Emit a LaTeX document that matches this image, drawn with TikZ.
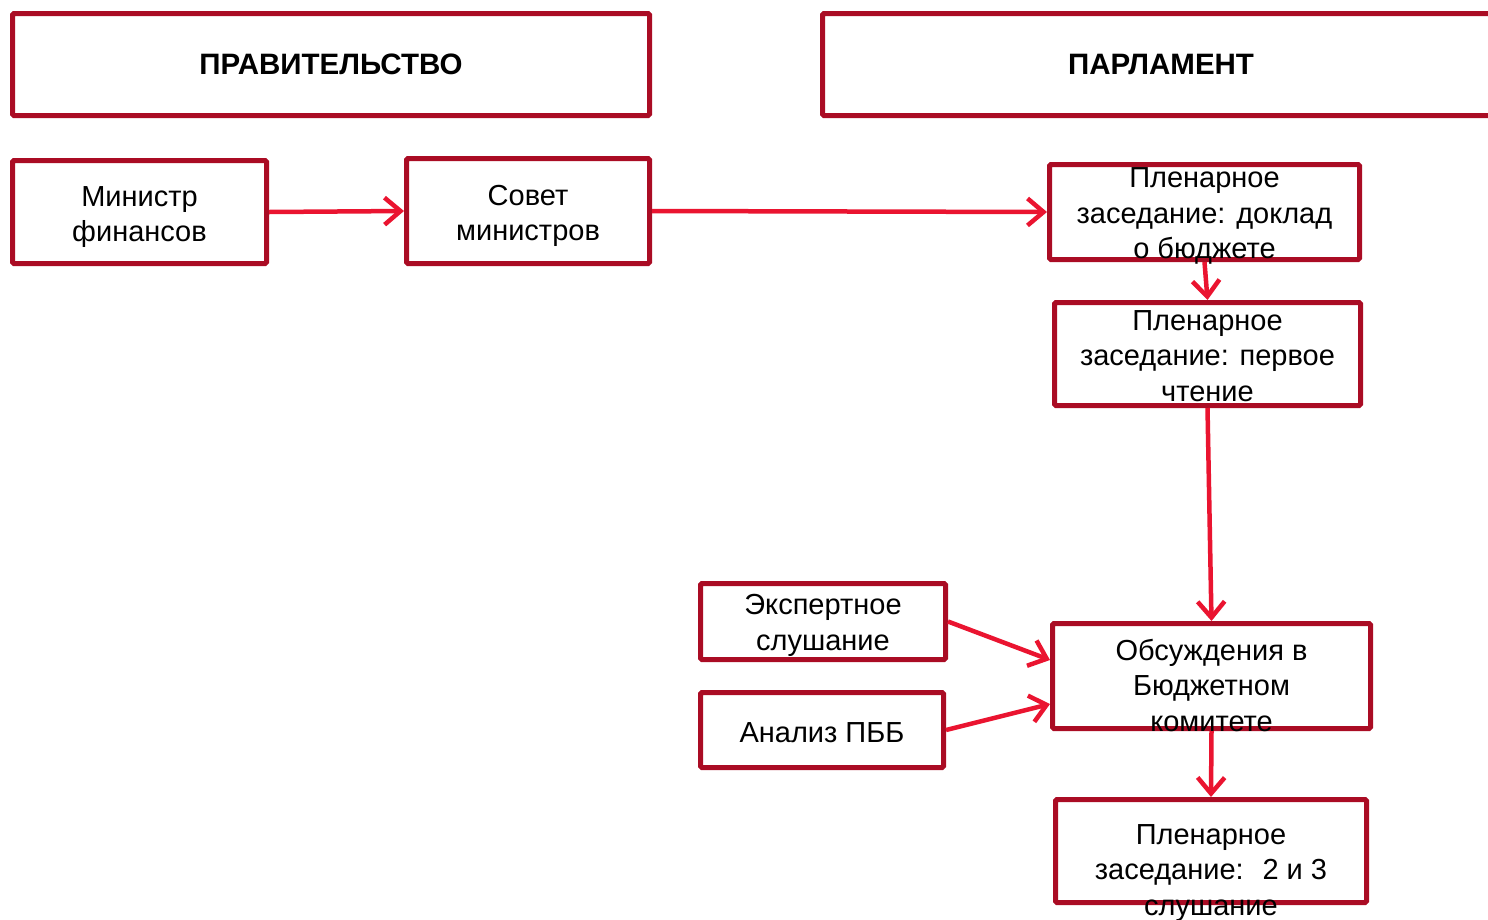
\documentclass[tikz,border=0pt]{standalone}
\usepackage{fontspec}
\setmainfont{Liberation Sans}
\usetikzlibrary{arrows.meta}
\definecolor{boxred}{RGB}{170,12,36}
\definecolor{arrred}{RGB}{234,20,48}
\tikzset{
  box/.style={draw=boxred,line width=5pt,rounded corners=1.5pt,inner sep=0pt},
  txt/.style={align=center,inner sep=0pt,font=\fontsize{29}{35.5}\selectfont},
  head/.style={inner sep=0pt,font=\fontsize{29.5}{34}\selectfont\bfseries},
  flow/.style={draw=arrred,line width=4.5pt,-{Straight Barb[length=16pt,width=27pt]}},
}
\begin{document}
\begin{tikzpicture}[x=1pt,y=-1pt]
\useasboundingbox (0,0) rectangle (1488,919);
\node (gov) at (331,64.5) [box,minimum width=637,minimum height=102] {};
\node (parl) at (1161,64.5) [box,minimum width=677,minimum height=102] {};
\node (minf) at (139.5,212) [box,minimum width=254,minimum height=103] {};
\node (sovet) at (528,211) [box,minimum width=243,minimum height=105] {};
\node (pl1) at (1204.5,212) [box,minimum width=310,minimum height=95] {};
\node (pl2) at (1207.5,354) [box,minimum width=306,minimum height=103] {};
\node (eksp) at (823,621.5) [box,minimum width=245,minimum height=76] {};
\node (pbb) at (822,730) [box,minimum width=243,minimum height=75] {};
\node (obs) at (1211.5,676) [box,minimum width=318,minimum height=105] {};
\node (pl3) at (1211,851) [box,minimum width=311,minimum height=103] {};
% texts
\node (gov-t) at (gov) [head] {ПРАВИТЕЛЬСТВО};
\node (parl-t) at (parl) [head] {ПАРЛАМЕНТ};
\node (minf-t) at (minf) [txt,yshift=-5] {Министр\\финансов};
\node (sovet-t) at (sovet) [txt,yshift=-5] {Совет\\министров};
\node (pl1-t) at (pl1) [txt,yshift=-4] {Пленарное\\заседание: доклад\\о бюджете};
\node (pl2-t) at (pl2) [txt,yshift=-2] {Пленарное\\заседание: первое\\чтение};
\node (eksp-t) at (eksp) [txt,yshift=-4] {Экспертное\\слушание};
\node (pbb-t) at (pbb) [txt,yshift=-3] {Анализ ПББ};
\node (obs-t) at (obs) [txt,yshift=-9] {Обсуждения в\\Бюджетном\\комитете};
\node (pl3-t) at (pl3) [txt,yshift=-22] {Пленарное\\заседание:~ 2 и 3\\слушание};
% arrows
\draw[flow] (minf.east) -- (sovet.west);
\draw[flow] (sovet.east) -- (pl1.west);
\draw[flow] (pl1.south) -- (pl2.north);
\draw[flow] (pl2.south) -- (obs.north);
\draw[flow] (eksp.east) -- ([yshift=16]obs.west);
\draw[flow] (pbb.east) -- ([yshift=-28]obs.west);
\draw[flow] (obs.south) -- (pl3.north);
\end{tikzpicture}
\end{document}
